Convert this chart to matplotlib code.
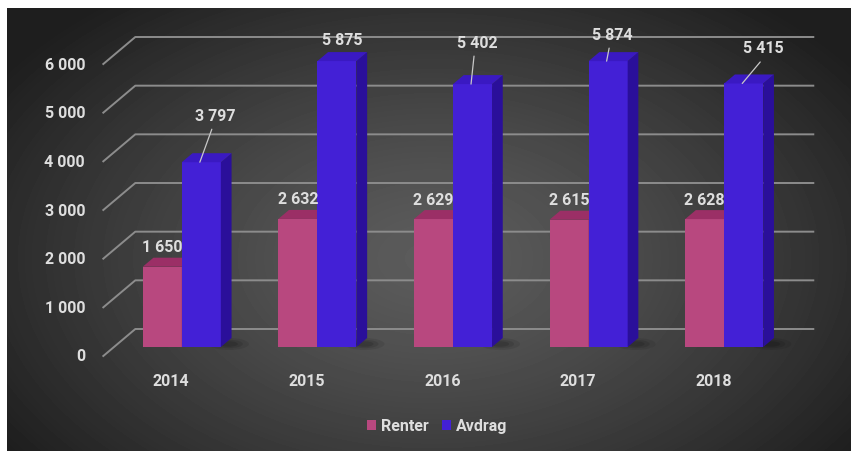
import numpy as np
import matplotlib.pyplot as plt
from matplotlib.patches import Polygon, Rectangle, Ellipse, Patch

# loan costs per year
years = ['2014', '2015', '2016', '2017', '2018']
renter = [1650, 2632, 2629, 2615, 2628]
avdrag = [3797, 5875, 5402, 5874, 5415]
ticks = [0, 1000, 2000, 3000, 4000, 5000, 6000]

# where the Avdrag labels sit relative to the bar top (pixels) and whether a leader line is drawn
avdrag_lbl = [(13.5, 47, True), (5, 22, False), (4.5, 42, True), (4, 27, True), (19.5, 35.5, True)]


def fmt(v):
    return f'{v:,}'.replace(',', ' ')


W, H = 851, 452
fig = plt.figure(figsize=(W / 100, H / 100), dpi=100, facecolor='white')

# dark radial background
bg = fig.add_axes([7 / W, 0, (W - 7) / W, (H - 9) / H])
bg.set_axis_off()
gx, gy = np.meshgrid(np.arange(W - 7), np.arange(H - 9))
d = np.sqrt(((gx - 425) / 520) ** 2 + ((gy - 250) / 330) ** 2)
shade = 92 - 62 * np.clip(d, 0, 1) ** 1.3
bg.imshow(shade, cmap='gray', vmin=0, vmax=255, aspect='auto', interpolation='bilinear')

ax = fig.add_axes([114 / W, (H - 348) / H, 678 / W, 292 / H])
ax.set_xlim(-0.5, 4.5)
ax.set_ylim(0, 6000)
ax.set_axis_off()
ax.patch.set_alpha(0)

sx = ax.bbox.width / 5.0
sy = ax.bbox.height / 6000.0


def px(dx, dy):
    return dx / sx, dy / sy


txt = dict(family='Roboto', weight='bold', size=11.5, color='#dedede')
grid_c = '#8c8c8c'

# floor depth split: front edge, bar front plane, bar back, back wall
fx, fy = px(-10.7, -9)
bx, by = px(21.3, 18)
ddx, ddy = px(10.7, 9)

for v in ticks:
    ax.plot([-0.5 + fx, -0.5 + bx, 4.5 + bx], [v + fy, v + by, v + by],
            color=grid_c, lw=1.4, clip_on=False, zorder=1)
    ax.annotate(fmt(v), (-0.5, v), xytext=(-29, -9), textcoords='offset pixels',
                ha='right', va='center', **txt)

w = 0.288
pink = ('#b8487f', '#8c2a5c', '#9b2f66')
blue = ('#4320d6', '#2a0f9a', '#3a19c2')


def draw_bar(xl, v, cols):
    front, side, top = cols
    ax.add_patch(Rectangle((xl, 0), w, v, fc=front, ec='none', zorder=3, clip_on=False))
    ax.add_patch(Polygon([(xl + w, 0), (xl + w + ddx, ddy), (xl + w + ddx, v + ddy), (xl + w, v)],
                         fc=side, ec='none', zorder=3, clip_on=False))
    ax.add_patch(Polygon([(xl, v), (xl + w, v), (xl + w + ddx, v + ddy), (xl + ddx, v + ddy)],
                         fc=top, ec='none', zorder=3, clip_on=False))


for i in range(len(years)):
    # soft shadow on the floor
    for k, a in zip([1.0, 0.7, 0.45], [0.08, 0.10, 0.12]):
        ax.add_patch(Ellipse((i + w + px(8, 0)[0], px(0, 3)[1]), px(40 * k, 0)[0], px(0, 12 * k)[1],
                             fc='black', ec='none', alpha=a, zorder=2, clip_on=False))

    draw_bar(i - w, renter[i], pink)
    draw_bar(i, avdrag[i], blue)

    ax.annotate(fmt(renter[i]), (i - w / 2, renter[i]), xytext=(0, 20), textcoords='offset pixels',
                ha='center', va='center', zorder=5, **txt)

    ox, oy, lead = avdrag_lbl[i]
    ax.annotate(fmt(avdrag[i]), (i + w / 2, avdrag[i]), xytext=(ox, oy), textcoords='offset pixels',
                ha='center', va='center', zorder=5, **txt)
    if lead:
        ax.annotate('', (i + w / 2 - px(1.5, 0)[0], avdrag[i]), xytext=(ox - 1.5, oy - 14),
                    textcoords='offset pixels',
                    arrowprops=dict(arrowstyle='-', color='#c8c8c8', lw=0.9, shrinkA=0, shrinkB=0),
                    zorder=5)

    ax.annotate(years[i], (i, 0), xytext=(-10.7, -34), textcoords='offset pixels',
                ha='center', va='center', **txt)

handles = [Patch(fc=pink[0], ec='none', label='Renter'), Patch(fc=blue[0], ec='none', label='Avdrag')]
fig.legend(handles=handles, loc='center', bbox_to_anchor=(437 / W, 1 - 427 / H), ncol=2,
           frameon=False, handlelength=0.6, handleheight=0.6, handletextpad=0.3,
           columnspacing=0.8, labelcolor='#dedede',
           prop=dict(family='Roboto', weight='bold', size=11.5))

fig.savefig('out.png', dpi=100)
